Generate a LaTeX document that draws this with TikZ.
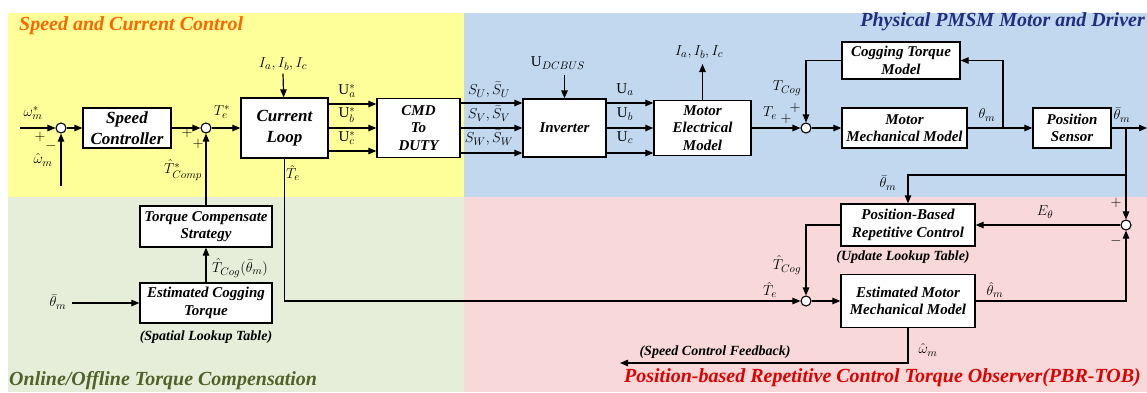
\documentclass[tikz,border=0pt]{standalone}
\usepackage{amsmath}
\usepackage{fontspec}
\setmainfont{Liberation Serif}
\usetikzlibrary{arrows.meta}
\definecolor{bgyellow}{HTML}{FFFF99}
\definecolor{bgblue}{HTML}{C2D8EE}
\definecolor{bggreen}{HTML}{E6EEDA}
\definecolor{bgpink}{HTML}{F8D8D8}
\definecolor{ttlorange}{HTML}{FF6600}
\definecolor{ttlnavy}{HTML}{1F2F80}
\definecolor{ttlgreen}{HTML}{4F6228}
\definecolor{ttlred}{HTML}{E00000}

\begin{document}
\begin{tikzpicture}[x=1pt,y=-1pt,
    blk/.style={draw,line width=1.3pt,fill=white,align=center,inner sep=0pt,
        font=\fontsize{15}{17.5}\selectfont\bfseries\itshape},
    bigblk/.style={blk,font=\fontsize{17}{20.5}\selectfont\bfseries\itshape},
    sumnode/.style={circle,draw,line width=1.1pt,fill=white,minimum size=10pt,inner sep=0pt},
    lbl/.style={inner sep=0pt,font=\fontsize{15}{17}\selectfont},
    note/.style={inner sep=0pt,font=\fontsize{14}{16}\selectfont\bfseries\itshape},
    ttl/.style={inner sep=0pt,font=\fontsize{20}{24}\selectfont\bfseries\itshape},
    wire/.style={line width=1.2pt},
    arr/.style={wire,-{Triangle[length=8pt,width=6.5pt]}}]
    \useasboundingbox (0,0) rectangle (1147,392);
    \fill[white] (0,0) rectangle (1147,392);
    \fill[bgyellow] (8,13) rectangle (464,197);
    \fill[bgblue] (464,13) rectangle (1147,197);
    \fill[bggreen] (8,197) rectangle (464,392);
    \fill[bgpink] (464,197) rectangle (1147,392);

    \node[ttl,text=ttlorange,anchor=west] (ttlspeed) at (19,26) {Speed and Current Control};
    \node[ttl,text=ttlnavy,anchor=east] (ttlpmsm) at (1145,22) {Physical PMSM Motor and Driver};
    \node[ttl,text=ttlgreen,anchor=west] (ttlcomp) at (9,381) {Online/Offline Torque Compensation};
    \node[ttl,text=ttlred,anchor=east] (ttlobs) at (1141,378) {Position-based Repetitive Control Torque Observer(PBR-TOB)};

    \node[bigblk,minimum width=88,minimum height=40] (spdctrl) at (127,128) {Speed\\Controller};
    \node[bigblk,minimum width=87,minimum height=60] (curloop) at (284.5,128) {Current\\Loop};
    \node[blk,minimum width=83,minimum height=59] (cmd) at (418.5,128) {CMD\\To\\DUTY};
    \node[blk,minimum width=83,minimum height=58] (inv) at (564.5,128) {Inverter};
    \node[blk,minimum width=97,minimum height=55] (elec) at (702.5,128) {Motor\\Electrical\\Model};
    \node[blk,minimum width=118,minimum height=37] (cogm) at (901,60.5) {Cogging Torque\\Model};
    \node[blk,minimum width=125,minimum height=40] (mech) at (904.5,128) {Motor\\Mechanical Model};
    \node[blk,minimum width=78,minimum height=40] (possens) at (1072,128) {Position\\Sensor};
    \node[blk,minimum width=134,minimum height=42] (pbrc) at (908,225) {Position-Based\\Repetitive Control};
    \node[blk,minimum width=134,minimum height=53] (estm) at (908,301) {Estimated Motor\\Mechanical Model};
    \node[blk,minimum width=132,minimum height=41] (tcs) at (206,226.5) {Torque Compensate\\Strategy};
    \node[blk,minimum width=132,minimum height=40] (ect) at (206,303) {Estimated Cogging\\Torque};

    \node[sumnode] (s1) at (61,128) {};
    \node[sumnode] (s2) at (206,128) {};
    \node[sumnode] (s3) at (806,128) {};
    \node[sumnode] (s4) at (1126,225) {};
    \node[sumnode] (s5) at (806,301) {};

    \coordinate (win) at (20,128);
    \coordinate (wfb) at (61,186);
    \coordinate (thin) at (72,303);
    \coordinate (udcin) at (564.5,75);
    \coordinate (iabcout) at (702.5,64);
    \coordinate (brm) at (1003,128);
    \coordinate (brs) at (1126,128);
    \coordinate (brd) at (1126,175);
    \coordinate (outr) at (1147,128);
    \coordinate (fbend) at (620,363);

    \node[lbl] (lwref) at (33,113) {$\omega_m^{*}$};
    \node[lbl] (lp1) at (40,137) {$+$};
    \node[lbl] (lm1) at (51,146) {$-$};
    \node[lbl] (lwhat) at (43,160) {$\hat{\omega}_m$};
    \node[lbl] (lp2) at (187,133) {$+$};
    \node[lbl] (lp3) at (198,144) {$+$};
    \node[lbl] (lteref) at (222,112) {$T_e^{*}$};
    \node[lbl] (ltcomp) at (183,170) {$\hat{T}^{*}_{Comp}$};
    \node[lbl] (ltehat) at (293,173) {$\hat{T}_e$};
    \node[lbl] (liabcin) at (283,64) {$I_a, I_b, I_c$};
    \node[lbl] (lua) at (347,91) {U$^{*}_{a}$};
    \node[lbl] (lub) at (347,115) {U$^{*}_{b}$};
    \node[lbl] (luc) at (347,138) {U$^{*}_{c}$};
    \node[lbl] (lsu) at (489,90) {$S_U, \bar{S}_U$};
    \node[lbl] (lsv) at (489,114) {$S_V, \bar{S}_V$};
    \node[lbl] (lsw) at (489,138) {$S_W, \bar{S}_W$};
    \node[lbl] (ludc) at (558,63) {U$_{DCBUS}$};
    \node[lbl] (lUa) at (625,90) {U$_{a}$};
    \node[lbl] (lUb) at (625,114) {U$_{b}$};
    \node[lbl] (lUc) at (625,138) {U$_{c}$};
    \node[lbl] (liabcout) at (699,52) {$I_a, I_b, I_c$};
    \node[lbl] (lte) at (770,113) {$T_e$};
    \node[lbl] (lp4) at (786,119) {$+$};
    \node[lbl] (lp5) at (795,108) {$+$};
    \node[lbl] (ltcog) at (787,88) {$T_{Cog}$};
    \node[lbl] (lthm) at (987,115) {$\theta_m$};
    \node[lbl] (lthbar) at (1122,115) {$\bar{\theta}_m$};
    \node[lbl] (lthbar2) at (888,183) {$\bar{\theta}_m$};
    \node[lbl] (leth) at (1045,212) {$E_\theta$};
    \node[lbl] (lp6) at (1116,203) {$+$};
    \node[lbl] (lm6) at (1116,241) {$-$};
    \node[lbl] (ltcoghat) at (787,265) {$\hat{T}_{Cog}$};
    \node[lbl] (ltehat2) at (770,290) {$\hat{T}_e$};
    \node[lbl] (lthhat) at (995,290) {$\hat{\theta}_m$};
    \node[lbl] (lwhat2) at (928,350) {$\hat{\omega}_m$};
    \node[lbl] (lthbarin) at (58,302) {$\bar{\theta}_m$};
    \node[lbl] (ltcogth) at (240,268) {$\hat{T}_{Cog}(\bar{\theta}_m)$};
    \node[note] (nfb) at (715,352) {(Speed Control Feedback)};
    \node[note] (nupd) at (903,257) {(Update Lookup Table)};
    \node[note] (nspat) at (206,337) {(Spatial Lookup Table)};

    \draw[arr] (win) -- (s1);
    \draw[arr] (wfb) -- (s1);
    \draw[arr] (s1) -- (spdctrl);
    \draw[arr] (spdctrl) -- (s2);
    \draw[arr] (s2) -- (curloop);
    \draw[arr] ([yshift=-3]liabcin.south) -- (curloop);
    \draw[arr] ([yshift=24]curloop.east) -- ([yshift=24]cmd.west);
    \draw[arr] (curloop) -- (cmd);
    \draw[arr] ([yshift=-23]curloop.east) -- ([yshift=-23]cmd.west);
    \draw[arr] ([yshift=25]cmd.east) -- ([yshift=25]inv.west);
    \draw[arr] (cmd) -- (inv);
    \draw[arr] ([yshift=-25]cmd.east) -- ([yshift=-25]inv.west);
    \draw[arr] (udcin) -- (inv);
    \draw[arr] ([yshift=25]inv.east) -- ([yshift=25]elec.west);
    \draw[arr] (inv) -- (elec);
    \draw[arr] ([yshift=-25]inv.east) -- ([yshift=-25]elec.west);
    \draw[arr] (elec) -- (iabcout);
    \draw[arr] (elec) -- (s3);
    \draw[arr] (s3) -- (mech);
    \draw[wire] (mech) -- (brm);
    \draw[arr] (brm) -- (possens);
    \draw[arr] (brm) |- (cogm);
    \draw[arr] (cogm) -| (s3);
    \draw[arr] (possens) -- (outr);
    \draw[arr] (brs) -- (s4);
    \draw[arr] (brd) -| (pbrc);
    \draw[arr] (s4) -- (pbrc);
    \draw[arr] (pbrc) -| (s5);
    \draw[arr] (curloop) |- (s5);
    \draw[arr] (s5) -- (estm);
    \draw[arr] (estm) -| (s4);
    \draw[arr] (estm) |- (fbend);
    \draw[arr] (thin) -- (ect);
    \draw[arr] (ect) -- (tcs);
    \draw[arr] (tcs) -- (s2);
\end{tikzpicture}
\end{document}
